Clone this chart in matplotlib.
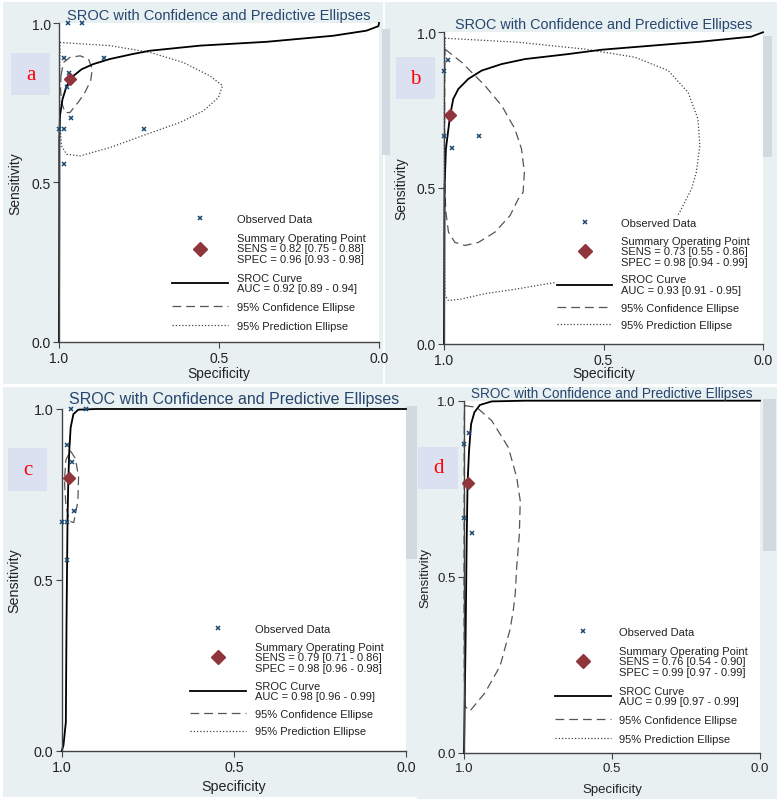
import matplotlib.pyplot as plt
from matplotlib.lines import Line2D
from matplotlib.patches import Rectangle

plt.rcParams['font.family'] = ['Liberation Sans', 'DejaVu Sans']

W, H = 777, 803

# ---------------- data (specificity, sensitivity) ----------------
panel_tags = ['a', 'b', 'c', 'd']
tick_vals = [1.0, 0.5, 0.0]
tick_labels = ['1.0', '0.5', '0.0']

a_obs_spec = [0.971, 0.929, 0.983, 0.858, 0.968, 0.976, 0.962, 1.0, 0.983, 0.733, 0.983]
a_obs_sens = [1.0, 1.0, 0.889, 0.889, 0.843, 0.798, 0.701, 0.667, 0.667, 0.667, 0.557]
a_summary = (0.966, 0.824)
a_sroc = [(1.0, 0.0), (0.999, 0.45), (0.999, 0.635), (0.997, 0.709), (0.989, 0.761),
          (0.976, 0.803), (0.955, 0.834), (0.929, 0.855), (0.893, 0.871), (0.841, 0.887),
          (0.768, 0.903), (0.716, 0.913), (0.559, 0.929), (0.351, 0.941), (0.143, 0.960),
          (0.039, 0.976), (0.002, 0.990), (0.0, 1.0)]
a_conf = [(0.994, 0.834), (0.986, 0.876), (0.966, 0.892), (0.934, 0.897), (0.908, 0.887),
          (0.896, 0.855), (0.901, 0.819), (0.919, 0.782), (0.940, 0.751), (0.966, 0.719),
          (0.981, 0.719), (0.992, 0.751), (0.995, 0.792), (0.994, 0.834)]
a_pred = [(0.997, 0.939), (0.841, 0.929), (0.716, 0.908), (0.611, 0.876), (0.528, 0.834),
          (0.489, 0.803), (0.502, 0.766), (0.549, 0.724), (0.622, 0.688), (0.726, 0.651),
          (0.841, 0.609), (0.934, 0.583), (0.976, 0.588), (0.992, 0.614), (0.997, 0.677),
          (0.998, 0.813), (0.997, 0.939)]
a_text = ['SENS = 0.82 [0.75 - 0.88]', 'SPEC = 0.96 [0.93 - 0.98]', 'AUC = 0.92 [0.89 - 0.94]']

b_obs_spec = [0.986, 0.999, 0.999, 0.974, 0.890]
b_obs_sens = [0.911, 0.877, 0.668, 0.627, 0.668]
b_summary = (0.980, 0.734)
b_sroc = [(1.0, 0.0), (0.999, 0.30), (0.998, 0.507), (0.994, 0.625), (0.981, 0.732),
          (0.971, 0.786), (0.955, 0.818), (0.924, 0.850), (0.882, 0.877), (0.819, 0.898),
          (0.746, 0.914), (0.611, 0.930), (0.506, 0.944), (0.350, 0.957), (0.193, 0.970),
          (0.037, 0.986), (0.0, 1.0)]
b_conf = [(0.997, 0.946), (0.945, 0.904), (0.872, 0.829), (0.819, 0.764), (0.778, 0.690),
          (0.757, 0.625), (0.748, 0.550), (0.752, 0.486), (0.767, 0.465), (0.793, 0.411),
          (0.840, 0.358), (0.892, 0.325), (0.934, 0.315), (0.966, 0.325), (0.986, 0.358),
          (0.994, 0.422), (0.997, 0.486), (0.998, 0.679), (0.998, 0.839), (0.997, 0.946)]
b_pred = [(0.997, 0.981), (0.767, 0.968), (0.558, 0.946), (0.402, 0.920), (0.297, 0.877),
          (0.235, 0.807), (0.204, 0.722), (0.198, 0.636), (0.209, 0.550), (0.224, 0.497),
          (0.261, 0.422), (0.329, 0.315), (0.454, 0.240), (0.647, 0.197), (0.767, 0.176),
          (0.872, 0.160), (0.945, 0.143), (0.986, 0.138), (0.997, 0.154), (0.999, 0.358),
          (0.999, 0.786), (0.997, 0.981)]
b_text = ['SENS = 0.73 [0.55 - 0.86]', 'SPEC = 0.98 [0.94 - 0.99]', 'AUC = 0.93 [0.91 - 0.95]']

c_obs_spec = [0.974, 0.930, 0.984, 0.971, 0.963, 1.0, 0.986, 0.986]
c_obs_sens = [1.0, 1.0, 0.895, 0.844, 0.703, 0.670, 0.670, 0.558]
c_summary = (0.978, 0.797)
c_sroc = [(1.0, 0.0), (0.995, 0.016), (0.988, 0.084), (0.986, 0.376), (0.983, 0.683),
          (0.981, 0.781), (0.978, 0.878), (0.974, 0.946), (0.966, 0.985), (0.952, 0.998),
          (0.90, 1.0), (0.0, 1.0)]
c_conf = [(0.975, 0.878), (0.960, 0.855), (0.951, 0.800), (0.953, 0.730), (0.965, 0.668),
          (0.978, 0.672), (0.988, 0.720), (0.992, 0.790), (0.988, 0.850), (0.975, 0.878)]
c_pred = []
c_text = ['SENS = 0.79 [0.71 - 0.86]', 'SPEC = 0.98 [0.96 - 0.98]', 'AUC = 0.98 [0.96 - 0.99]']

d_obs_spec = [0.982, 0.999, 0.999, 0.974]
d_obs_sens = [0.908, 0.877, 0.667, 0.624]
d_summary = (0.985, 0.766)
d_sroc = [(1.0, 0.0), (0.995, 0.30), (0.991, 0.60), (0.988, 0.763), (0.983, 0.858),
          (0.976, 0.934), (0.965, 0.967), (0.946, 0.988), (0.906, 0.998), (0.793, 1.0),
          (0.0, 1.0)]
d_conf = [(0.997, 0.986), (0.957, 0.981), (0.906, 0.943), (0.850, 0.867), (0.822, 0.782),
          (0.810, 0.716), (0.813, 0.621), (0.822, 0.527), (0.827, 0.451), (0.833, 0.408),
          (0.844, 0.352), (0.878, 0.247), (0.929, 0.171), (0.980, 0.119), (0.997, 0.133),
          (0.999, 0.229), (1.0, 0.465), (0.999, 0.953), (0.997, 0.986)]
d_pred = []
d_text = ['SENS = 0.76 [0.54 - 0.90]', 'SPEC = 0.99 [0.97 - 0.99]', 'AUC = 0.99 [0.97 - 0.99]']

# ---------------- layout (pixels, origin top-left) ----------------
NAVY = '#1a476f'
MAROON = '#90353b'
BG = '#e8f0f2'


def fbox(x0, y0, x1, y1):
    return [x0 / W, 1 - y1 / H, (x1 - x0) / W, (y1 - y0) / H]


fig = plt.figure(figsize=(W / 100, H / 100), dpi=100)
fig.patch.set_facecolor('white')


def rect(x0, y0, x1, y1, color, z=-2):
    b = fbox(x0, y0, x1, y1)
    fig.add_artist(Rectangle((b[0], b[1]), b[2], b[3], transform=fig.transFigure,
                             facecolor=color, edgecolor='none', zorder=z))


# panel backgrounds
rect(3, 3, 383, 385, BG)
rect(385, 3, 777, 385, BG)
rect(3, 388, 417, 798, BG)
rect(417, 388, 777, 800, BG)
# grey side bars
for bx in [(382, 30, 390, 156), (762, 37, 772, 158), (406, 407, 417, 560), (763, 400, 776, 552)]:
    rect(*bx, '#d3d9e1', z=-1)

panels = [
    dict(box=(59, 24, 379, 342.7), obs=(a_obs_spec, a_obs_sens), summ=a_summary, sroc=a_sroc,
         conf=a_conf, pred=a_pred, txt=a_text, tag_box=(11, 54, 50, 96),
         tfs=10.5, fs=10, tpad=3, leg=(0.347, 0.027), lsp=0.8, ylab=-0.138, xlab=-0.099),
    dict(box=(444, 33.3, 763, 344.5), obs=(b_obs_spec, b_obs_sens), summ=b_summary, sroc=b_sroc,
         conf=b_conf, pred=b_pred, txt=b_text, tag_box=(396, 58, 435, 100),
         tfs=10.4, fs=10, tpad=3, leg=(0.347, 0.035), lsp=0.7, ylab=-0.135, xlab=-0.096),
    dict(box=(61.7, 410, 406, 752), obs=(c_obs_spec, c_obs_sens), summ=c_summary, sroc=c_sroc,
         conf=c_conf, pred=c_pred, txt=c_text, tag_box=(8, 449, 47, 492),
         tfs=11.5, fs=10.3, tpad=4, leg=(0.367, 0.036), lsp=0.7, ylab=-0.139, xlab=-0.103),
    dict(box=(464, 401.7, 760, 754), obs=(d_obs_spec, d_obs_sens), summ=d_summary, sroc=d_sroc,
         conf=d_conf, pred=d_pred, txt=d_text, tag_box=(418, 448, 458, 490),
         tfs=9.8, fs=9.5, tpad=3, leg=(0.300, 0.020), lsp=0.8, ylab=-0.132, xlab=-0.103),
]

for tag, p in zip(panel_tags, panels):
    ax = fig.add_axes(fbox(*p['box']))
    ax.set_facecolor('white')
    ax.set_xlim(1, 0)
    ax.set_ylim(0, 1)

    if p['pred']:
        xs, ys = zip(*p['pred'])
        ax.plot(xs, ys, color='#444444', lw=0.9, ls=(0, (1, 1.6)), clip_on=False)
    xs, ys = zip(*p['conf'])
    ax.plot(xs, ys, color='#555555', lw=0.9, ls=(0, (7, 4)), clip_on=False)
    xs, ys = zip(*p['sroc'])
    ax.plot(xs, ys, color='black', lw=1.3, clip_on=False)
    ax.plot(p['obs'][0], p['obs'][1], ls='none', marker='x', ms=3.5, mew=1.1,
            color=NAVY, clip_on=False, zorder=4)
    ax.plot([p['summ'][0]], [p['summ'][1]], ls='none', marker='D', ms=6.5,
            color=MAROON, clip_on=False, zorder=4)

    for s in ['top', 'right']:
        ax.spines[s].set_visible(False)
    for s in ['left', 'bottom']:
        ax.spines[s].set_color('#444444')
        ax.spines[s].set_linewidth(1.0)
    ax.set_xticks(tick_vals)
    ax.set_xticklabels(tick_labels)
    ax.set_yticks(tick_vals)
    ax.set_yticklabels(tick_labels)
    ax.tick_params(length=4, width=0.8, color='#444444', labelsize=p['fs'],
                   labelcolor='#222222')
    ax.tick_params(axis='x', pad=2.5)
    ax.tick_params(axis='y', pad=2)

    ax.set_ylabel('Sensitivity', fontsize=p['fs'], color='#222222', va='center')
    ax.yaxis.set_label_coords(p['ylab'], 0.5)
    ax.set_xlabel('Specificity', fontsize=p['fs'], color='#222222', va='center')
    ax.xaxis.set_label_coords(0.5, p['xlab'])
    ax.set_title('SROC with Confidence and Predictive Ellipses', fontsize=p['tfs'],
                 color='#27466e', pad=p['tpad'])

    handles = [
        Line2D([], [], ls='none', marker='x', ms=3.5, mew=1.1, color=NAVY),
        Line2D([], [], ls='none', marker='D', ms=7.5, color=MAROON),
        Line2D([], [], color='black', lw=1.3),
        Line2D([], [], color='#555555', lw=0.9, ls=(0, (7, 4))),
        Line2D([], [], color='#444444', lw=0.9, ls=(0, (1, 1.6))),
    ]
    labels = [
        'Observed Data',
        'Summary Operating Point\n' + p['txt'][0] + '\n' + p['txt'][1],
        'SROC Curve\n' + p['txt'][2],
        '95% Confidence Ellipse',
        '95% Prediction Ellipse',
    ]
    leg = ax.legend(handles, labels, loc='lower left', bbox_to_anchor=p['leg'],
                    frameon=True, facecolor='white', edgecolor='none', framealpha=1,
                    fancybox=False, fontsize=8, handlelength=5, handletextpad=0.8,
                    labelspacing=p['lsp'], borderpad=0.2, borderaxespad=0)
    for t in leg.get_texts():
        t.set_linespacing(1.05)
        t.set_color('#222222')

    # panel tag box
    x0, y0, x1, y1 = p['tag_box']
    rect(x0, y0, x1, y1, '#dce1f1', z=-1)
    fig.text((x0 + x1) / 2 / W, 1 - (y0 + y1) / 2 / H, tag, color='red',
             fontsize=15, family='Liberation Serif', ha='center', va='center')

fig.savefig('out.png', dpi=100)
